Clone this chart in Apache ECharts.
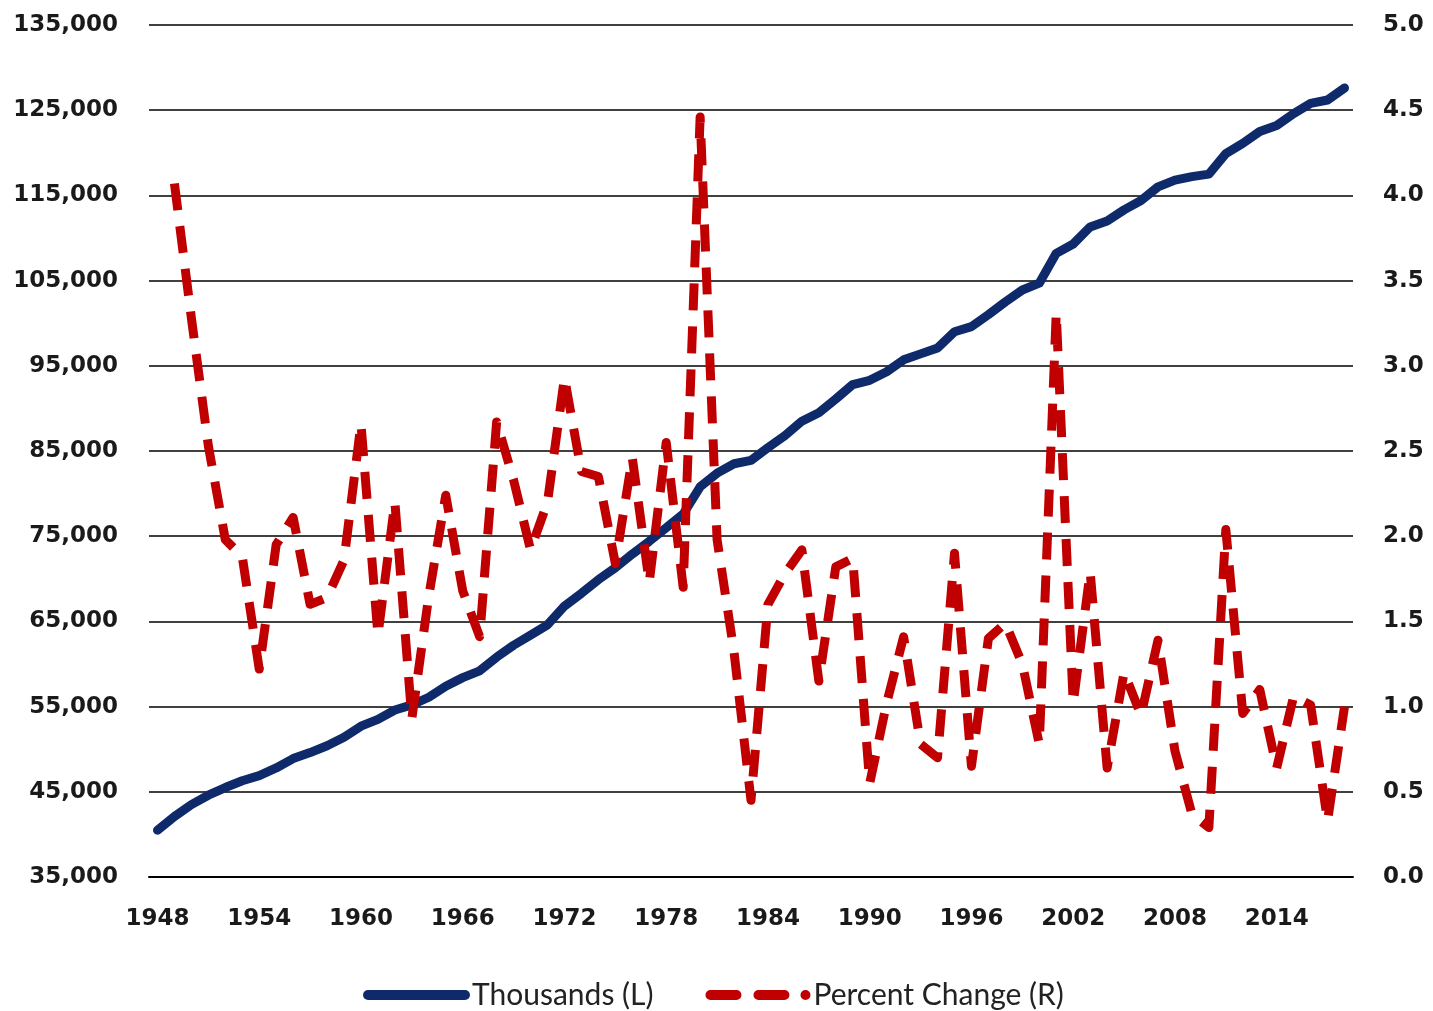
<!DOCTYPE html>
<html>
<head>
<meta charset="utf-8">
<script src="https://cdn.jsdelivr.net/npm/echarts@6/dist/echarts.min.js"></script>
<style>
  html, body { margin: 0; padding: 0; background: #ffffff; }
  #chart { width: 1433px; height: 1011px; }
</style>
</head>
<body>
<div id="chart"></div>
<script>
// Years on the category axis
const years = [
  '1948','1949','1950','1951','1952','1953','1954','1955','1956','1957',
  '1958','1959','1960','1961','1962','1963','1964','1965','1966','1967',
  '1968','1969','1970','1971','1972','1973','1974','1975','1976','1977',
  '1978','1979','1980','1981','1982','1983','1984','1985','1986','1987',
  '1988','1989','1990','1991','1992','1993','1994','1995','1996','1997',
  '1998','1999','2000','2001','2002','2003','2004','2005','2006','2007',
  '2008','2009','2010','2011','2012','2013','2014','2015','2016','2017',
  '2018'
];

// Households, thousands (left axis)
const thousands = [
  40500, 42100, 43500, 44600, 45500, 46300, 46900, 47800, 48900, 49600,
  50400, 51400, 52700, 53500, 54600, 55200, 56100, 57400, 58400, 59200,
  60800, 62200, 63400, 64600, 66800, 68300, 69900, 71300, 72900, 74400,
  76000, 77600, 80800, 82400, 83500, 83900, 85400, 86800, 88500, 89500,
  91100, 92800, 93300, 94300, 95700, 96400, 97100, 99000, 99600, 101000,
  102500, 103900, 104700, 108200, 109300, 111300, 112000, 113300, 114400, 116000,
  116800, 117200, 117500, 119900, 121100, 122500, 123200, 124600, 125800, 126200,
  127600
];

// Year-over-year percent change (right axis); no value for the first year
const pctChange = [
  null, 4.07, 3.28, 2.53, 1.98, 1.88, 1.22, 1.95, 2.11, 1.60,
  1.64, 1.86, 2.66, 1.42, 2.20, 0.93, 1.65, 2.24, 1.68, 1.41,
  2.67, 2.33, 1.92, 2.20, 2.93, 2.38, 2.35, 1.84, 2.46, 1.73,
  2.55, 1.70, 4.46, 1.98, 1.32, 0.45, 1.60, 1.78, 1.92, 1.15,
  1.82, 1.87, 0.55, 1.02, 1.41, 0.78, 0.70, 1.90, 0.65, 1.40,
  1.49, 1.25, 0.78, 3.31, 1.02, 1.79, 0.64, 1.20, 0.95, 1.39,
  0.74, 0.37, 0.29, 2.04, 0.96, 1.10, 0.64, 1.06, 1.01, 0.33,
  1.00
];

const seriesNames = ['Thousands (L)', 'Percent Change (R)'];

const BLUE = '#0f2a6b';
const RED = '#c00000';

const labelFont = {
  fontFamily: 'DejaVu Sans',
  fontWeight: 'bold',
  fontSize: 23,
  color: '#1a1a1a'
};

// Legend keys: a solid bar, and two dashes followed by a dot
const solidKey = 'path://M5,0 L102,0 A5,5 0 0 1 102,10 L5,10 A5,5 0 0 1 5,0 Z';
const dashedKey = 'path://M5,0 L31,0 A5,5 0 0 1 31,10 L5,10 A5,5 0 0 1 5,0 Z ' +
  'M53,0 L79,0 A5,5 0 0 1 79,10 L53,10 A5,5 0 0 1 53,0 Z ' +
  'M100,0 A5,5 0 0 1 100,10 A5,5 0 0 1 100,0 Z';

const chart = echarts.init(document.getElementById('chart'), null, { renderer: 'canvas' });

chart.setOption({
  backgroundColor: '#ffffff',
  animation: false,
  grid: { left: 149, right: 80, top: 25, bottom: 134, containLabel: false },
  legend: {
    left: 358,
    top: 970,
    itemWidth: 107,
    itemHeight: 10,
    itemGap: 52,
    textStyle: { fontFamily: 'Lato', fontSize: 30, lineHeight: 40, color: '#222222', padding: [0, 0, 0, -3] },
    data: [
      { name: seriesNames[0], icon: solidKey, itemStyle: { color: BLUE } },
      { name: seriesNames[1], icon: dashedKey, itemStyle: { color: RED } }
    ]
  },
  xAxis: [
    {
      type: 'category',
      data: years,
      boundaryGap: true,
      axisLine: { lineStyle: { color: '#000000', width: 2 } },
      axisTick: { interval: 5, length: 12, lineStyle: { color: '#000000', width: 1.5 } },
      axisLabel: Object.assign({ interval: 5, margin: 31 }, labelFont),
      splitLine: { show: false }
    },
    {
      // short ticks every third year
      type: 'category',
      data: years,
      boundaryGap: true,
      position: 'bottom',
      axisLine: { show: false },
      axisTick: { interval: 2, length: 8, lineStyle: { color: '#000000', width: 1.5 } },
      axisLabel: { show: false },
      splitLine: { show: false }
    },
    {
      // upper half of the long ticks
      type: 'category',
      data: years,
      boundaryGap: true,
      position: 'bottom',
      axisLine: { show: false },
      axisTick: { interval: 5, inside: true, length: 9, lineStyle: { color: '#000000', width: 1.5 } },
      axisLabel: { show: false },
      splitLine: { show: false }
    }
  ],
  yAxis: [
    {
      type: 'value',
      position: 'left',
      min: 35000,
      max: 135000,
      interval: 10000,
      axisLine: { show: false },
      axisTick: { show: false },
      axisLabel: Object.assign({
        margin: 31,
        formatter: v => v.toLocaleString('en-US')
      }, labelFont),
      splitLine: { lineStyle: { color: '#000000', width: 1.5 } }
    },
    {
      type: 'value',
      position: 'right',
      min: 0,
      max: 5,
      interval: 0.5,
      axisLine: { show: false },
      axisTick: { show: false },
      axisLabel: Object.assign({
        margin: 30,
        formatter: v => v.toFixed(1)
      }, labelFont),
      splitLine: { show: false }
    }
  ],
  series: [
    {
      name: seriesNames[0],
      type: 'line',
      xAxisIndex: 0,
      yAxisIndex: 0,
      data: thousands,
      symbol: 'none',
      smooth: false,
      lineStyle: { color: BLUE, width: 9, cap: 'round', join: 'round' },
      itemStyle: { color: BLUE },
      z: 2
    },
    {
      name: seriesNames[1],
      type: 'line',
      xAxisIndex: 0,
      yAxisIndex: 1,
      data: pctChange,
      symbol: 'none',
      smooth: false,
      connectNulls: false,
      lineStyle: { color: RED, width: 9, type: [27, 16], join: 'round' },
      itemStyle: { color: RED },
      z: 3
    }
  ]
});
</script>
</body>
</html>
